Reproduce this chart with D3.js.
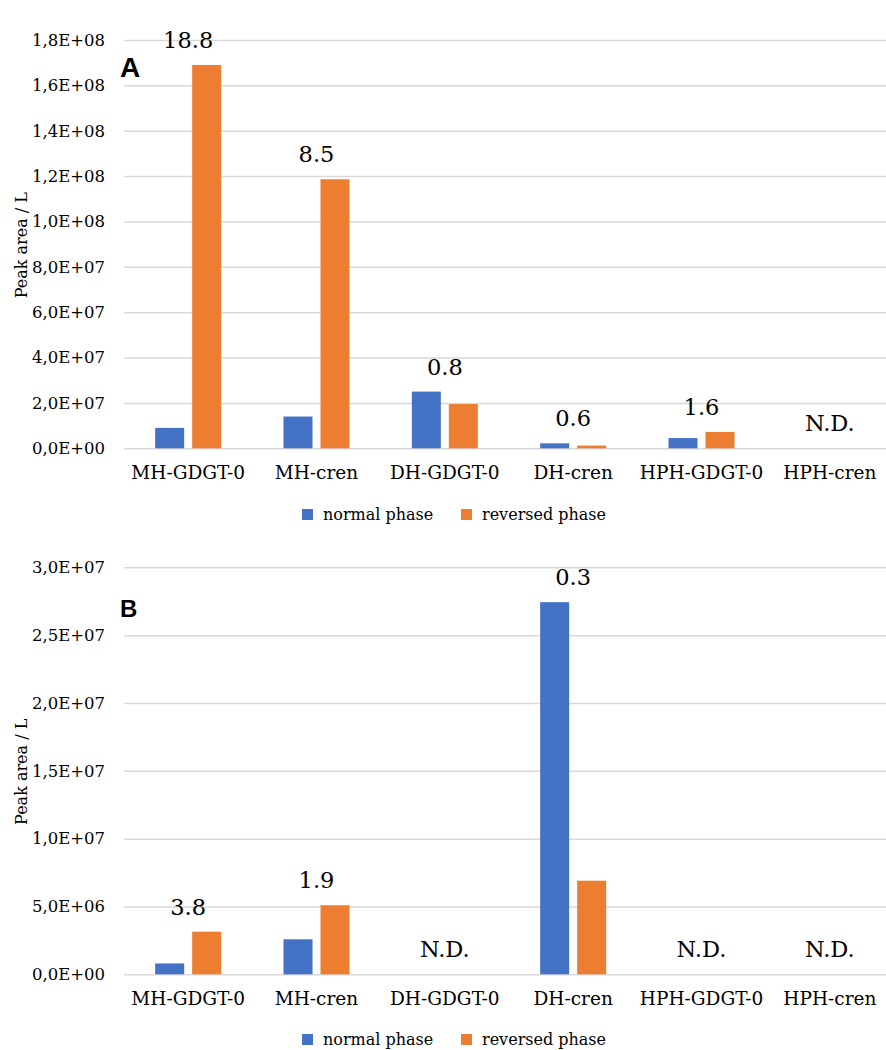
<!DOCTYPE html>
<html>
<head>
<meta charset="utf-8">
<script src="https://cdn.jsdelivr.net/npm/d3@7"></script>
<style>
  html, body { margin: 0; padding: 0; background: #ffffff; }
  svg { display: block; }
  .serif { font-family: "DejaVu Serif", "Liberation Serif", serif; }
  .sansb { font-family: "Liberation Sans", Arimo, Arial, sans-serif; font-weight: bold; }
</style>
</head>
<body>
<svg id="chart" width="886" height="1050"></svg>
<script>
// ---------- data ----------
const categories = ["MH-GDGT-0", "MH-cren", "DH-GDGT-0", "DH-cren", "HPH-GDGT-0", "HPH-cren"];
const seriesNames = ["normal phase", "reversed phase"];

const normalA   = [9.0e6, 1.4e7, 2.5e7, 2.2e6, 4.5e6, 0];
const reversedA = [1.69e8, 1.186e8, 1.95e7, 1.2e6, 7.2e6, 0];
const labelsA   = ["18.8", "8.5", "0.8", "0.6", "1.6", "N.D."];
const ticksA    = [0, 2e7, 4e7, 6e7, 8e7, 1e8, 1.2e8, 1.4e8, 1.6e8, 1.8e8];

const normalB   = [0.8e6, 2.58e6, 0, 2.743e7, 0, 0];
const reversedB = [3.14e6, 5.09e6, 0, 6.9e6, 0, 0];
const labelsB   = ["3.8", "1.9", "N.D.", "0.3", "N.D.", "N.D."];
const ticksB    = [0, 5e6, 1e7, 1.5e7, 2e7, 2.5e7, 3e7];

const yTitle = "Peak area / L";

// ---------- styles ----------
const colors = ["#4472C4", "#ED7D31"];

const svg = d3.select("#chart");
svg.append("rect").attr("width", 886).attr("height", 1050).attr("fill", "#fff");

function fmtE(v) {
  const s = v.toExponential(1);
  const [m, e] = s.split("e");
  const sign = e[0] === "-" ? "-" : "+";
  const digits = e.replace(/[+-]/, "").padStart(2, "0");
  return m.replace(".", ",") + "E" + sign + digits;
}

function panel(opts) {
  const { normal, reversed, labels, ticks, yMax, top, bottom, letter, letterSize, letterY, legendY } = opts;
  const left = 124, right = 894;
  const g = svg.append("g");

  const x0 = d3.scaleBand().domain(categories).range([left, right]).padding(0);
  const x1 = d3.scaleBand().domain(seriesNames).range([0, x0.bandwidth()])
    .paddingInner(0.216).paddingOuter(0.842);
  const y = d3.scaleLinear().domain([0, yMax]).range([bottom, top]);

  const grid = g.append("g").attr("transform", `translate(${left},0)`)
    .call(d3.axisLeft(y).tickValues(ticks).tickSize(-(right - left)).tickFormat(""));
  grid.select(".domain").remove();
  grid.selectAll("line").attr("stroke", "#d9d9d9").attr("stroke-width", 1.5);

  const ya = g.append("g").attr("transform", `translate(${left},0)`)
    .call(d3.axisLeft(y).tickValues(ticks).tickSize(0).tickPadding(19).tickFormat(fmtE));
  ya.select(".domain").remove();
  ya.attr("font-family", null).attr("font-size", null);
  ya.selectAll("text").attr("class", "serif").style("font-size", "16.5px").attr("fill", "#000");

  const xa = g.append("g").attr("transform", `translate(0,${bottom})`)
    .call(d3.axisBottom(x0).tickSize(0).tickPadding(18));
  xa.select(".domain").remove();
  xa.attr("font-family", null).attr("font-size", null);
  xa.selectAll("text").attr("class", "serif").style("font-size", "18.5px").attr("fill", "#000");

  const rows = categories.map((c, i) => ({ c, vals: [normal[i], reversed[i]], label: labels[i] }));
  const grp = g.selectAll("g.bar-group").data(rows).enter().append("g")
    .attr("class", "bar-group")
    .attr("transform", d => `translate(${x0(d.c)},0)`);
  grp.selectAll("rect").data(d => d.vals.map((v, k) => ({ k, v }))).enter().append("rect")
    .filter(d => d.v > 0)
    .attr("x", d => x1(seriesNames[d.k]))
    .attr("width", x1.bandwidth())
    .attr("y", d => y(d.v))
    .attr("height", d => y(0) - y(d.v))
    .attr("fill", d => colors[d.k]);

  grp.append("text")
    .attr("class", "serif")
    .attr("x", x0.bandwidth() / 2)
    .attr("y", d => y(d3.max(d.vals)) - 17)
    .attr("text-anchor", "middle")
    .style("font-size", "22.5px").attr("fill", "#000")
    .text(d => d.label);

  g.append("text")
    .attr("class", "serif")
    .attr("transform", `translate(27,${(top + bottom) / 2 + 1}) rotate(-90)`)
    .attr("text-anchor", "middle")
    .style("font-size", "16px").attr("fill", "#000")
    .text(yTitle);

  g.append("text")
    .attr("class", "sansb")
    .attr("x", 120).attr("y", letterY)
    .style("font-size", letterSize + "px").attr("fill", "#000")
    .text(letter);

  const lg = g.append("g").attr("transform", `translate(302,${legendY})`);
  const offs = [0, 159];
  seriesNames.forEach((s, k) => {
    lg.append("rect").attr("x", offs[k]).attr("y", -11).attr("width", 11).attr("height", 11)
      .attr("fill", colors[k]);
    lg.append("text").attr("class", "serif").attr("x", offs[k] + 21).attr("y", 0)
      .style("font-size", "16px").attr("fill", "#000")
      .text(s);
  });
}

panel({ normal: normalA, reversed: reversedA, labels: labelsA, ticks: ticksA, yMax: 1.8e8,
        top: 40, bottom: 448.3, letter: "A", letterSize: 28, letterY: 77, legendY: 520 });
panel({ normal: normalB, reversed: reversedB, labels: labelsB, ticks: ticksB, yMax: 3e7,
        top: 567.3, bottom: 974.3, letter: "B", letterSize: 24, letterY: 617, legendY: 1045 });
</script>
</body>
</html>
